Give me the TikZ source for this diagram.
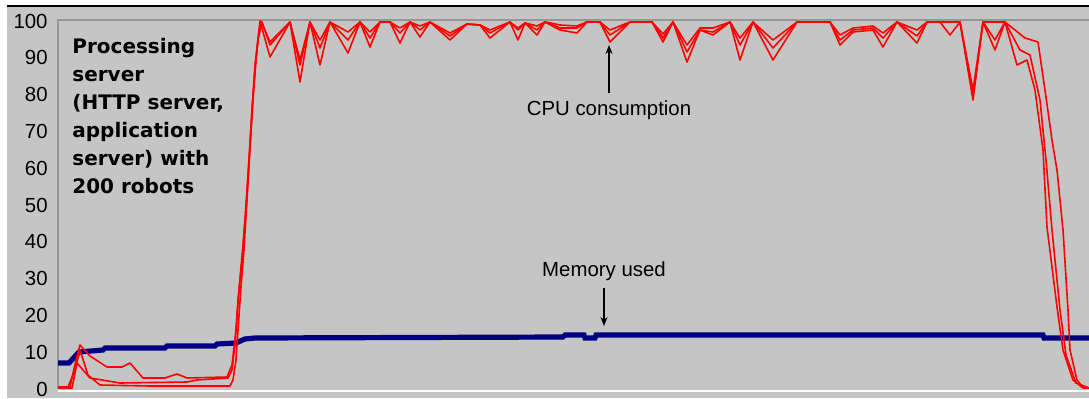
\documentclass[tikz,border=0pt]{standalone}
\usepackage{fontspec}
\setmainfont{Liberation Sans}
\newfontfamily\labelfont{DejaVu Sans}
\usepackage{xcolor}
\usetikzlibrary{arrows.meta}
\definecolor{chartgray}{RGB}{197,197,197}
\definecolor{framegray}{RGB}{150,150,150}
\definecolor{memblue}{RGB}{0,0,128}

\begin{document}
\begin{tikzpicture}[scale=0.5, x=1pt, y=-1pt]
	\tikzstyle{every node}=[font=\fontsize{10.2}{12}\selectfont]
	\tikzstyle{cpu line}=[red, line width=0.8pt, line join=round]
	\tikzstyle{mem line}=[memblue, line width=2.6pt]
	\tikzstyle{note arrow}=[line width=0.6pt, ->, >={Stealth[length=4.5pt,width=3.5pt]}]
	\useasboundingbox (0,0) rectangle (1089,398);
	% chart background and frame
	\fill [chartgray] (7,7) rectangle (1089,398);
	\draw [line width=1pt, black] (7,5.5) -- (1089,5.5);
	\draw [line width=1pt, framegray] (1089,20) -- (58,20) -- (58,389);
	\draw [line width=1pt, white] (58,390.5) -- (1089,390.5);
	% axis values
	\foreach \v in {0,10,...,100}
		\node (tick\v) [anchor=east, inner sep=0pt] at (48,{389-3.68*\v}) {\v};
	% memory used
	\draw [mem line] plot coordinates {(58,363) (69,363) (79,352) (103,350) (105,348) (165,348) (167,346) (215,346) (217,344) (236,343) (245,339) (255,338) (563,337) (565,335) (584,335) (585,338) (595,338) (596,335) (1043,335) (1044,338) (1089,338)};
	% cpu consumption
	\draw [cpu line] plot coordinates {(58,387) (68,387) (75,370) (80,350) (88,375) (100,385) (150,386) (230,386) (233,380) (236,360) (238,330) (241,287) (244,250) (247,200) (250,150) (253,100) (256,60) (260,21)
		(270,57) (290,22) (300,82) (310,22) (320,65) (330,22) (348,53) (360,22) (370,47) (380,22) (390,22) (400,43) (410,22) (420,37) (430,22) (450,40) (467,24) (480,25) (490,38) (510,22) (518,40) (525,23) (537,35) (545,22) (560,30) (577,33) (587,22) (600,22) (610,42) (630,22) (652,22) (663,42) (673,22) (687,62) (700,30) (713,35) (730,22) (740,60) (753,22) (773,60) (797,22) (830,22) (840,45) (853,32) (873,30) (883,47) (897,22) (917,43) (927,22) (940,22) (950,35) (960,22) (973,100) (983,22) (995,50) (1005,22)
		(1017,65) (1027,60) (1035,90) (1043,150) (1047,227) (1057,307) (1063,350) (1073,380) (1083,388) (1089,388)};
	\draw [cpu line] plot coordinates {(58,388) (72,388) (77,363) (90,378) (120,383) (187,382) (197,380) (228,378) (232,370) (235,345) (238,300) (242,260) (246,210) (249,160) (252,110) (255,70) (258,40) (262,22)
		(270,45) (290,22) (300,65) (310,22) (320,48) (330,22) (348,40) (360,22) (370,38) (380,22) (390,22) (400,33) (410,22) (420,30) (430,22) (450,36) (467,24) (480,25) (490,33) (510,22) (518,30) (525,23) (537,30) (545,22) (560,28) (577,28) (587,22) (600,22) (610,35) (630,22) (652,22) (663,38) (673,22) (687,52) (700,30) (713,32) (730,22) (740,45) (753,22) (773,48) (797,22) (830,22) (840,40) (853,30) (873,28) (883,38) (897,22) (917,36) (927,22) (940,22) (950,22) (960,22) (973,95) (983,22) (995,40) (1005,22)
		(1020,50) (1030,55) (1040,100) (1046,160) (1052,230) (1060,310) (1066,355) (1076,383) (1089,388)};
	\draw [cpu line] plot coordinates {(58,387) (70,387) (76,360) (80,345) (90,356) (107,367) (122,367) (130,363) (143,378) (165,378) (177,374) (187,378) (227,377) (232,365) (236,330) (239,290) (243,245) (246,205) (249,160) (252,110) (255,65) (259,30) (261,21)
		(270,42) (290,22) (300,60) (310,22) (320,40) (330,22) (348,32) (360,22) (370,32) (380,22) (390,22) (400,28) (410,22) (420,26) (430,22) (450,33) (467,24) (480,25) (490,30) (510,22) (518,28) (525,23) (537,26) (545,22) (560,25) (577,26) (587,22) (600,22) (610,30) (630,22) (652,22) (663,34) (673,22) (687,45) (700,28) (713,28) (730,22) (740,38) (753,22) (773,40) (797,22) (830,22) (840,35) (853,28) (873,26) (883,33) (897,22) (917,30) (927,22) (940,22) (950,22) (960,22) (973,90) (983,22) (995,22) (1005,22)
		(1025,38) (1038,42) (1045,90) (1052,140) (1057,170) (1063,230) (1068,310) (1070,350) (1077,380) (1083,387) (1089,388)};
	% labels
	\node (title) [anchor=north west, align=left, inner sep=0pt, font=\labelfont\bfseries\fontsize{10}{14}\selectfont] at (72,38) {Processing\\server\\(HTTP server,\\application\\server) with\\200 robots};
	\node (cpu) at (609,110) {CPU consumption};
	\coordinate (cputip) at (608,45);
	\draw [note arrow] (cpu.north) -- (cpu.north |- cputip);
	\node (mem) at (604,271) {Memory used};
	\coordinate (memtip) at (606,326);
	\draw [note arrow] (mem.south) -- (mem.south |- memtip);
\end{tikzpicture}
\end{document}
